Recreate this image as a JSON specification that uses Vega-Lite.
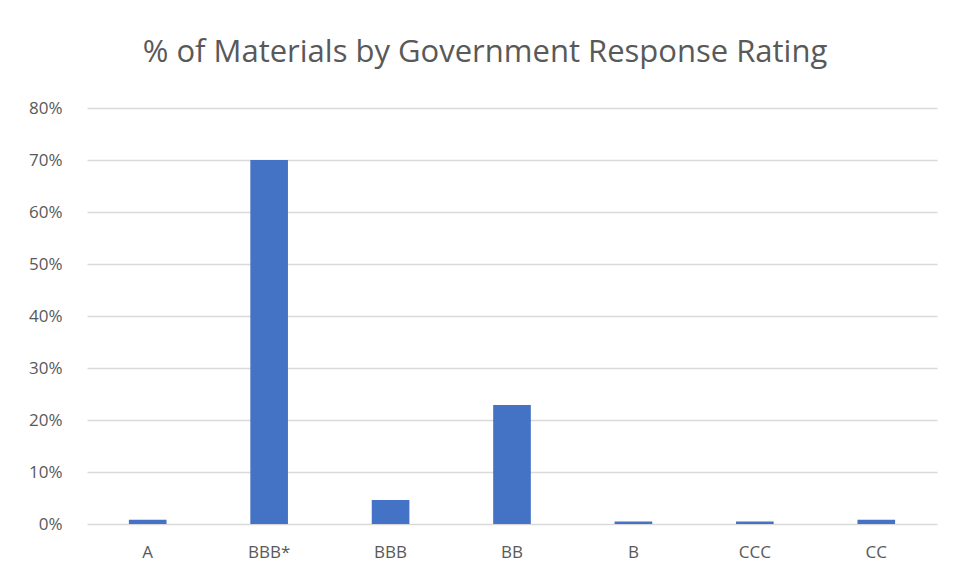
{
  "$schema": "https://vega.github.io/schema/vega-lite/v6.json",
  "autosize": {"type": "none"},
  "width": 850,
  "height": 416,
  "padding": {"left": 87, "top": 108, "right": 18, "bottom": 59},
  "background": "white",
  "title": {
    "text": "% of Materials by Government Response Rating",
    "font": "Open Sans",
    "fontSize": 31,
    "fontWeight": "normal",
    "color": "#595959",
    "anchor": "middle",
    "baseline": "bottom",
    "offset": -1,
    "dx": -27
  },
  "data": {
    "values": [
      {"rating": "A", "pct": 0.008},
      {"rating": "BBB*", "pct": 0.70},
      {"rating": "BBB", "pct": 0.046},
      {"rating": "BB", "pct": 0.229},
      {"rating": "B", "pct": 0.005},
      {"rating": "CCC", "pct": 0.005},
      {"rating": "CC", "pct": 0.008}
    ]
  },
  "mark": {"type": "bar", "color": "#4472C4"},
  "encoding": {
    "x": {
      "field": "rating",
      "type": "nominal",
      "sort": null,
      "scale": {"paddingInner": 0.69, "paddingOuter": 0.345},
      "axis": {
        "title": null,
        "labelAngle": 0,
        "labelFont": "Open Sans",
        "labelFontSize": 17,
        "labelColor": "#595959",
        "labelPadding": 20,
        "ticks": false,
        "domain": false
      }
    },
    "y": {
      "field": "pct",
      "type": "quantitative",
      "scale": {"domain": [0, 0.8], "nice": false},
      "axis": {
        "title": null,
        "format": ".0%",
        "values": [0, 0.1, 0.2, 0.3, 0.4, 0.5, 0.6, 0.7, 0.8],
        "labelFont": "Open Sans",
        "labelFontSize": 17,
        "labelColor": "#595959",
        "labelPadding": 25,
        "ticks": false,
        "domain": false,
        "gridColor": "#d9d9d9",
        "gridWidth": 1.5
      }
    }
  },
  "config": {"view": {"stroke": null}}
}
